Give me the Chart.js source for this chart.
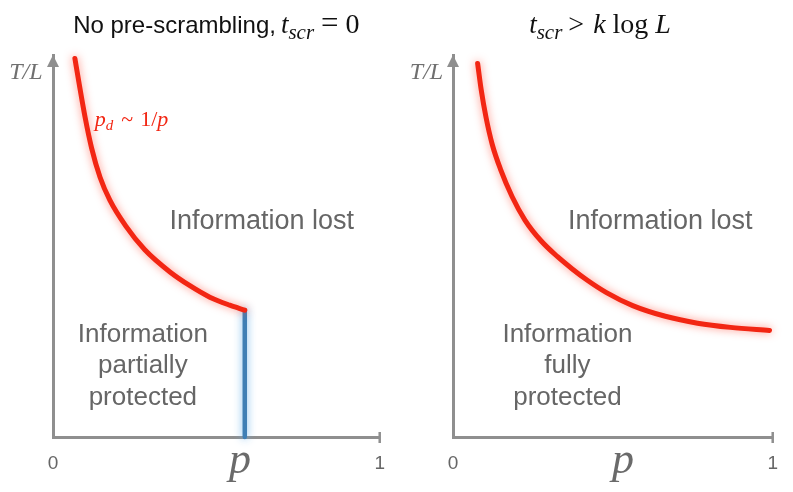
<!DOCTYPE html>
<html><head><meta charset="utf-8">
<script src="https://cdn.jsdelivr.net/npm/chart.js@4.4.1/dist/chart.umd.min.js"></script>
<style>
html,body{margin:0;padding:0;background:#fff;}
#wrap{position:relative;width:793px;height:492px;overflow:hidden;background:#fff;}
canvas{position:absolute;top:0;}
#c1{left:0;} #c2{left:400px;}
</style></head><body>
<div id="wrap"><canvas id="c1" width="400" height="492"></canvas><canvas id="c2" width="393" height="492"></canvas></div>
<script>
// ---- data ----
const xTicks = [0, 1];
const xTickLabels = ['0', '1'];
const leftP = [0.067, 0.080, 0.098, 0.118, 0.144, 0.174, 0.223, 0.281, 0.358, 0.419, 0.480, 0.541, 0.587];
const leftT = [0.991, 0.925, 0.838, 0.757, 0.680, 0.620, 0.552, 0.490, 0.432, 0.396, 0.366, 0.345, 0.332];
const boundaryP = [0.587, 0.587];
const boundaryT = [0.0, 0.332];
const rightP = [0.077, 0.088, 0.103, 0.123, 0.149, 0.185, 0.225, 0.276, 0.327, 0.373, 0.419, 0.480, 0.562, 0.664, 0.765, 0.868, 0.990];
const rightT = [0.978, 0.910, 0.838, 0.765, 0.700, 0.629, 0.568, 0.513, 0.472, 0.440, 0.411, 0.378, 0.344, 0.316, 0.298, 0.287, 0.279];
// ---- text ----
const titleLeft = ['No pre-scrambling,', 't', 'scr', '=', '0'];
const titleRight = ['t', 'scr', '>', 'k', 'log', 'L'];
const lostLabel = 'Information lost';
const partialLabel = ['Information', 'partially', 'protected'];
const fullLabel = ['Information', 'fully', 'protected'];
const curveLabel = ['p', 'd', '~', '1/', 'p'];
const axisXLabel = 'p';
const axisYLabel = 'T/L';

const SANS = '"Liberation Sans", Arial, Helvetica, sans-serif';
const SERIF = '"Liberation Serif", "Times New Roman", serif';
const AXIS = '#8f8f8f';
const GRAY = '#666666';
const RED = '#f22613';

function f(style, size, fam) { return style + ' ' + size + 'px ' + fam; }

function drawRuns(ctx, runs, x, y, align) {
  let total = 0;
  runs.forEach(r => { ctx.font = r.font; r.w = ctx.measureText(r.text).width + (r.gap || 0); total += r.w; });
  let cx = align === 'left' ? x : x - total / 2;
  runs.forEach(r => {
    ctx.font = r.font; ctx.fillStyle = r.color; ctx.textAlign = 'left'; ctx.textBaseline = 'alphabetic';
    ctx.fillText(r.text, cx, y + (r.dy || 0));
    cx += r.w;
  });
}

const glowPlugin = {
  id: 'glow',
  beforeDatasetDraw(chart, args) {
    const ds = chart.data.datasets[args.index];
    chart.ctx.save();
    chart.ctx.shadowColor = ds.glowColor;
    chart.ctx.shadowBlur = 8;
  },
  afterDatasetDraw(chart) { chart.ctx.restore(); }
};

const decorPlugin = {
  id: 'decor',
  afterDraw(chart, args, o) {
    const ctx = chart.ctx, xs = chart.scales.x, ys = chart.scales.y, ca = chart.chartArea;
    const X = v => xs.getPixelForValue(v), Y = v => ys.getPixelForValue(v);
    ctx.save();
    ctx.fillStyle = AXIS;
    ctx.beginPath();
    ctx.moveTo(ca.left, ca.top);
    ctx.lineTo(ca.left - 6, ca.top + 12);
    ctx.lineTo(ca.left + 6, ca.top + 12);
    ctx.closePath(); ctx.fill();
    ctx.strokeStyle = AXIS; ctx.lineWidth = 2.5;
    ctx.beginPath(); ctx.moveTo(X(1), ca.bottom - 5); ctx.lineTo(X(1), ca.bottom + 6); ctx.stroke();
    (o.texts || []).forEach(t => drawRuns(ctx, t.runs, X(t.p), Y(t.t), t.align));
    ctx.restore();
  }
};

function commonTexts(pLabelX, lostP) {
  return [
    { p: -0.083, t: 0.937, align: 'center', runs: [{ text: axisYLabel, font: f('italic', 24, SERIF), color: '#707070' }] },
    { p: pLabelX, t: -0.094, align: 'center', runs: [{ text: axisXLabel, font: f('italic', 44, SERIF), color: '#6a6a6a' }] },
    { p: lostP, t: 0.545, align: 'center', runs: [{ text: lostLabel, font: f('normal', 27, SANS), color: GRAY }] }
  ];
}
function stack(lines, p) {
  const ts = [0.249, 0.168, 0.084];
  return lines.map((s, i) => ({ p: p, t: ts[i], align: 'center', runs: [{ text: s, font: f('normal', 26, SANS), color: GRAY }] }));
}

const K = '#111';
const leftTexts = commonTexts(0.572, 0.639).concat(stack(partialLabel, 0.275)).concat([
  { p: 0.5, t: 1.058, align: 'center', runs: [
    { text: titleLeft[0], font: f('normal', 24, SANS), color: K, gap: 5 },
    { text: titleLeft[1], font: f('italic', 27, SERIF), color: K },
    { text: titleLeft[2], font: f('italic', 21, SERIF), color: K, dy: 6, gap: 7 },
    { text: titleLeft[3], font: f('normal', 31, SERIF), color: K, gap: 7 },
    { text: titleLeft[4], font: f('normal', 28, SERIF), color: K } ] },
  { p: 0.128, t: 0.814, align: 'left', runs: [
    { text: curveLabel[0], font: f('italic', 22, SERIF), color: RED },
    { text: curveLabel[1], font: f('italic', 15, SERIF), color: RED, dy: 4, gap: 8 },
    { text: curveLabel[2], font: f('normal', 22, SERIF), color: RED, gap: 7 },
    { text: curveLabel[3], font: f('normal', 22, SERIF), color: RED },
    { text: curveLabel[4], font: f('italic', 22, SERIF), color: RED } ] }
]);
const rightTexts = commonTexts(0.532, 0.648).concat(stack(fullLabel, 0.358)).concat([
  { p: 0.460, t: 1.058, align: 'center', runs: [
    { text: titleRight[0], font: f('italic', 27, SERIF), color: K },
    { text: titleRight[1], font: f('italic', 21, SERIF), color: K, dy: 6, gap: 6 },
    { text: titleRight[2], font: f('normal', 28, SERIF), color: K, gap: 9 },
    { text: titleRight[3], font: f('italic', 28, SERIF), color: K, gap: 7 },
    { text: titleRight[4], font: f('normal', 28, SERIF), color: K, gap: 7 },
    { text: titleRight[5], font: f('italic', 28, SERIF), color: K } ] }
]);

function line(ps, ts, color, glow, w) {
  return {
    data: ps.map((p, i) => ({ x: p, y: ts[i] })),
    borderColor: color, borderWidth: w, pointRadius: 0, fill: false,
    cubicInterpolationMode: 'monotone', clip: false, glowColor: glow, borderCapStyle: 'round'
  };
}

function makeChart(id, datasets, texts, rightPad) {
  return new Chart(document.getElementById(id), {
    type: 'line',
    data: { datasets: datasets },
    plugins: [glowPlugin, decorPlugin],
    options: {
      responsive: false, animation: false, devicePixelRatio: 1,
      layout: { padding: { top: 55, right: rightPad, left: 0, bottom: 0 } },
      plugins: { legend: { display: false }, tooltip: { enabled: false }, decor: { texts: texts } },
      scales: {
        x: {
          type: 'linear', min: 0, max: 1,
          afterBuildTicks: s => { s.ticks = xTicks.map(v => ({ value: v })); },
          afterFit: s => { s.height = 55; },
          ticks: { callback: (v, i) => xTickLabels[i], font: { family: SANS, size: 19 }, color: '#666', padding: 15, maxRotation: 0, autoSkip: false },
          grid: { display: false, drawTicks: false },
          border: { display: true, color: AXIS, width: 3 }
        },
        y: {
          type: 'linear', min: 0, max: 1,
          afterFit: s => { s.width = 53; },
          ticks: { display: false },
          grid: { display: false, drawTicks: false },
          border: { display: true, color: AXIS, width: 3 }
        }
      }
    }
  });
}

makeChart('c1', [
  line(leftP, leftT, RED, 'rgba(255,70,50,0.6)', 5),
  line(boundaryP, boundaryT, '#3f7fb5', 'rgba(100,175,235,0.9)', 4.5)
], leftTexts, 20);
makeChart('c2', [
  line(rightP, rightT, RED, 'rgba(255,70,50,0.6)', 5)
], rightTexts, 13);
</script>
</body></html>
